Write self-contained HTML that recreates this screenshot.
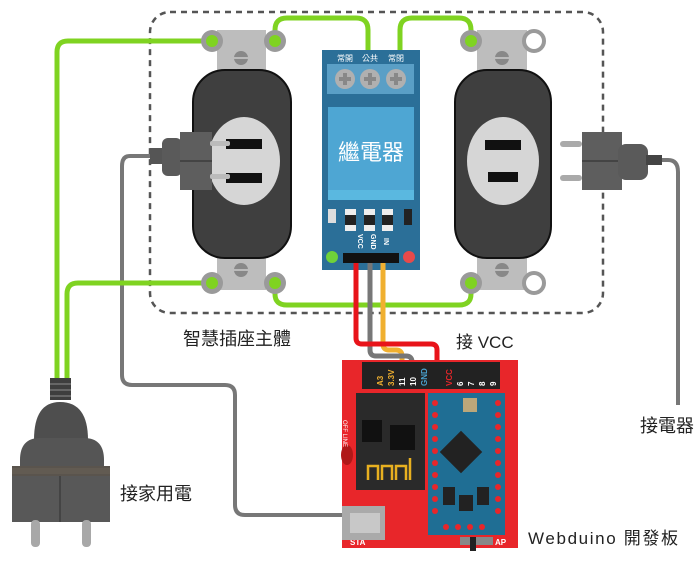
<!DOCTYPE html>
<html><head><meta charset="utf-8"><style>
html,body{margin:0;padding:0;background:#fff}
svg{display:block}
text{font-family:"Liberation Sans","Noto Sans CJK TC",sans-serif}
</style></head><body>
<svg width="700" height="565" viewBox="0 0 700 565" xmlns="http://www.w3.org/2000/svg">
<!-- dashed box -->
<rect x="150" y="12" width="453" height="301" rx="20" fill="none" stroke="#555" stroke-width="2.5" stroke-dasharray="6,5"/>

<!-- gray wires -->
<path d="M150,156 H130 Q122,156 122,166 V375 Q122,385 132,385 H225 Q235,385 235,395 V505 Q235,515 245,515 H350" fill="none" stroke="#777" stroke-width="4"/>
<path d="M620,160 H668 Q678,160 678,172 V405" fill="none" stroke="#777" stroke-width="4"/>

<!-- green wires -->
<g fill="none" stroke="#7fd321" stroke-width="5">
<path d="M212,41 H68 Q57,41 57,52 V380"/>
<path d="M212,283 H78 Q67,283 67,294 V380"/>
<path d="M275,41 V30 Q275,18 287,18 H356 Q368,18 368,30 V52"/>
<path d="M400,52 V30 Q400,18 412,18 H459 Q471,18 471,30 V41"/>
<path d="M275,283 V294 Q275,305 287,305 H459 Q471,305 471,294 V283"/>
</g>

<!-- outlets -->
<g>
 <rect x="217" y="30" width="49" height="42" fill="#bdbdbd"/>
 <circle cx="241" cy="58" r="7" fill="#888"/><rect x="234" y="57" width="14" height="2" fill="#bbb"/>
 <rect x="217" y="256" width="49" height="34" fill="#bdbdbd"/>
 <circle cx="241" cy="270" r="7" fill="#888"/><rect x="234" y="269" width="14" height="2" fill="#bbb"/>
 <rect x="193" y="70" width="98" height="188" rx="32" fill="#3f3f3f" stroke="#111" stroke-width="2"/>
 <ellipse cx="244" cy="161" rx="36" ry="44" fill="#d6d6d6"/>
 <rect x="226" y="139" width="36" height="10" fill="#111"/>
 <rect x="226" y="173" width="36" height="10" fill="#111"/>
 <circle cx="212" cy="41" r="11" fill="#9a9a9a"/><circle cx="212" cy="41" r="6" fill="#7fd321"/>
 <circle cx="275" cy="41" r="11" fill="#9a9a9a"/><circle cx="275" cy="41" r="6" fill="#7fd321"/>
 <circle cx="212" cy="283" r="11" fill="#9a9a9a"/><circle cx="212" cy="283" r="6" fill="#7fd321"/>
 <circle cx="275" cy="283" r="11" fill="#9a9a9a"/><circle cx="275" cy="283" r="6" fill="#7fd321"/>
</g>
<g>
 <rect x="477" y="30" width="50" height="42" fill="#bdbdbd"/>
 <circle cx="502" cy="58" r="7" fill="#888"/><rect x="495" y="57" width="14" height="2" fill="#bbb"/>
 <rect x="477" y="256" width="50" height="34" fill="#bdbdbd"/>
 <circle cx="502" cy="270" r="7" fill="#888"/><rect x="495" y="269" width="14" height="2" fill="#bbb"/>
 <rect x="455" y="70" width="96" height="188" rx="32" fill="#3f3f3f" stroke="#111" stroke-width="2"/>
 <ellipse cx="503" cy="161" rx="36" ry="44" fill="#d6d6d6"/>
 <rect x="485" y="140" width="36" height="10" fill="#111"/>
 <rect x="488" y="172" width="30" height="10" fill="#111"/>
 <circle cx="471" cy="41" r="11" fill="#9a9a9a"/><circle cx="471" cy="41" r="6" fill="#7fd321"/>
 <circle cx="534" cy="41" r="10" fill="#fff" stroke="#9a9a9a" stroke-width="4"/>
 <circle cx="471" cy="283" r="11" fill="#9a9a9a"/><circle cx="471" cy="283" r="6" fill="#7fd321"/>
 <circle cx="534" cy="283" r="10" fill="#fff" stroke="#9a9a9a" stroke-width="4"/>
</g>

<!-- plug in left outlet -->
<g>
 <rect x="150" y="148" width="14" height="16" fill="#555"/>
 <rect x="162" y="138" width="20" height="38" rx="6" fill="#5a5a5a"/>
 <rect x="180" y="132" width="32" height="58" fill="#5e5e5e"/>
 <rect x="180" y="160" width="32" height="2" fill="#444"/>
 <rect x="210" y="141" width="20" height="5" rx="2" fill="#bbb"/>
 <rect x="210" y="174" width="20" height="5" rx="2" fill="#bbb"/>
</g>
<!-- plug on right -->
<g>
 <rect x="560" y="141" width="22" height="6" rx="3" fill="#aaa"/>
 <rect x="560" y="175" width="22" height="6" rx="3" fill="#aaa"/>
 <rect x="582" y="132" width="40" height="58" fill="#5e5e5e"/>
 <rect x="582" y="160" width="40" height="2" fill="#444"/>
 <rect x="618" y="144" width="30" height="36" rx="8" fill="#5a5a5a"/>
 <rect x="646" y="155" width="16" height="10" fill="#444"/>
</g>

<!-- relay -->
<rect x="322" y="50" width="98" height="220" fill="#2b6f98"/>
<text x="345" y="61" font-size="8" fill="#fff" text-anchor="middle">常開</text>
<text x="370" y="61" font-size="8" fill="#fff" text-anchor="middle">公共</text>
<text x="396" y="61" font-size="8" fill="#fff" text-anchor="middle">常閉</text>
<rect x="327" y="64" width="87" height="30" fill="#5a9fc6"/>
<g fill="#b0b0b0"><circle cx="345" cy="79" r="10"/><circle cx="370" cy="79" r="10"/><circle cx="396" cy="79" r="10"/></g>
<g fill="#888"><rect x="339" y="77" width="12" height="4"/><rect x="343" y="73" width="4" height="12"/><rect x="364" y="77" width="12" height="4"/><rect x="368" y="73" width="4" height="12"/><rect x="390" y="77" width="12" height="4"/><rect x="394" y="73" width="4" height="12"/></g>
<rect x="328" y="107" width="86" height="93" fill="#4ea6d3"/>
<rect x="328" y="190" width="86" height="10" fill="#5ab8e0"/>
<text x="371" y="160" font-size="22" fill="#fff" text-anchor="middle">繼電器</text>
<rect x="328" y="209" width="8" height="14" fill="#ddd"/>
<g fill="#eee"><rect x="345" y="209" width="11" height="22"/><rect x="364" y="209" width="11" height="22"/><rect x="382" y="209" width="11" height="22"/></g>
<g fill="#222"><rect x="345" y="215" width="11" height="10"/><rect x="364" y="215" width="11" height="10"/><rect x="382" y="215" width="11" height="10"/></g>
<rect x="404" y="209" width="8" height="16" fill="#222"/>
<text transform="translate(358,234) rotate(90)" font-size="7" fill="#fff" font-weight="bold">VCC</text>
<text transform="translate(371,234) rotate(90)" font-size="7" fill="#fff" font-weight="bold">GND</text>
<text transform="translate(384,238) rotate(90)" font-size="7" fill="#fff" font-weight="bold">IN</text>
<rect x="343" y="253" width="56" height="10" fill="#111"/>
<circle cx="332" cy="257" r="6" fill="#6fd23a"/>
<circle cx="409" cy="257" r="6" fill="#e84a4a"/>

<!-- signal wires -->
<g fill="none" stroke-width="5">
<path d="M383,263 V344 Q383,350 389,350 H396 Q402,350 402,356 V368" stroke="#f0b030"/>
<path d="M370,263 V350 Q370,356 376,356 H406 Q412,356 412,362 V368" stroke="#777"/>
<path d="M356,263 V338 Q356,344 362,344 H431 Q437,344 437,350 V368" stroke="#e8141a"/>
</g>

<!-- webduino board -->
<rect x="342" y="360" width="176" height="188" fill="#e8262a"/>
<rect x="362" y="362" width="138" height="27" fill="#222"/>
<g font-size="8" font-weight="bold">
<text transform="translate(383,386) rotate(-90)" fill="#f0b030">A3</text>
<text transform="translate(394,386) rotate(-90)" fill="#f0b030">3.3V</text>
<text transform="translate(405,386) rotate(-90)" fill="#fff">11</text>
<text transform="translate(416,386) rotate(-90)" fill="#fff">10</text>
<text transform="translate(427,386) rotate(-90)" fill="#4aa3d0">GND</text>
<text transform="translate(452,386) rotate(-90)" fill="#e8262a">VCC</text>
<text transform="translate(463,386) rotate(-90)" fill="#fff">6</text>
<text transform="translate(474,386) rotate(-90)" fill="#fff">7</text>
<text transform="translate(485,386) rotate(-90)" fill="#fff">8</text>
<text transform="translate(496,386) rotate(-90)" fill="#fff">9</text>
</g>
<rect x="356" y="393" width="69" height="97" fill="#2a2a2a"/>
<rect x="362" y="420" width="20" height="22" fill="#111"/>
<rect x="390" y="425" width="25" height="25" fill="#111"/>
<path d="M368,480 V466 H378 V480 M382,480 V466 H392 V480 M396,480 V466 H406 V480 M410,480 V458" fill="none" stroke="#e8b020" stroke-width="2.5"/>
<rect x="428" y="393" width="77" height="142" fill="#1f6e94"/>
<rect x="446" y="437" width="30" height="30" fill="#222" transform="rotate(45 461 452)"/>
<rect x="463" y="398" width="14" height="14" fill="#bba77a"/>
<g fill="#e8262a"><circle cx="435" cy="403" r="3"/><circle cx="435" cy="415" r="3"/><circle cx="435" cy="427" r="3"/><circle cx="435" cy="439" r="3"/><circle cx="435" cy="451" r="3"/><circle cx="435" cy="463" r="3"/><circle cx="435" cy="475" r="3"/><circle cx="435" cy="487" r="3"/><circle cx="435" cy="499" r="3"/><circle cx="435" cy="511" r="3"/><circle cx="498" cy="403" r="3"/><circle cx="498" cy="415" r="3"/><circle cx="498" cy="427" r="3"/><circle cx="498" cy="439" r="3"/><circle cx="498" cy="451" r="3"/><circle cx="498" cy="463" r="3"/><circle cx="498" cy="475" r="3"/><circle cx="498" cy="487" r="3"/><circle cx="498" cy="499" r="3"/><circle cx="498" cy="511" r="3"/><circle cx="446" cy="527" r="3"/><circle cx="458" cy="527" r="3"/><circle cx="470" cy="527" r="3"/><circle cx="482" cy="527" r="3"/></g>
<rect x="443" y="487" width="12" height="18" fill="#222"/>
<rect x="477" y="487" width="12" height="18" fill="#222"/>
<rect x="459" y="495" width="14" height="16" fill="#222"/>
<text x="350" y="545" font-size="8" fill="#fff" font-weight="bold">STA</text>
<text x="495" y="545" font-size="8" fill="#fff" font-weight="bold">AP</text>
<rect x="460" y="537" width="33" height="8" fill="#888"/>
<rect x="470" y="537" width="6" height="14" fill="#222"/>
<rect x="342" y="506" width="43" height="34" fill="#aaa"/>
<rect x="350" y="513" width="30" height="20" fill="#c8c8c8"/>
<ellipse cx="347" cy="455" rx="6" ry="10" fill="#b01818"/>
<text transform="translate(343,420) rotate(90)" font-size="6" fill="#fff">OFF LINE</text>

<!-- left plug -->
<g>
 <rect x="50" y="378" width="21" height="22" fill="#3e3e3e"/>
 <rect x="50" y="383" width="21" height="2" fill="#666"/><rect x="50" y="389" width="21" height="2" fill="#666"/><rect x="50" y="395" width="21" height="2" fill="#666"/>
 <path d="M34,440 Q34,402 60,402 Q88,402 88,440 Z" fill="#4e4e4e"/>
 <path d="M20,460 Q20,438 40,438 H84 Q104,438 104,460 V470 H20 Z" fill="#555"/>
 <rect x="12" y="466" width="98" height="10" fill="#5a544d"/>
 <rect x="12" y="468" width="98" height="6" fill="#625b52"/>
 <rect x="12" y="476" width="98" height="46" fill="#585858"/>
 <rect x="59" y="476" width="2" height="46" fill="#444"/>
 <rect x="31" y="520" width="9" height="27" rx="4" fill="#a8a8a8"/>
 <rect x="82" y="520" width="9" height="27" rx="4" fill="#a8a8a8"/>
</g>

<!-- labels -->
<g fill="#222" font-size="18">
<text x="183" y="345">智慧插座主體</text>
<text x="456" y="348" font-size="17">接 VCC</text>
<text x="120" y="500">接家用電</text>
<text x="640" y="432">接電器</text>
<text x="528" y="544" font-size="17" textLength="150" lengthAdjust="spacing">Webduino 開發板</text>
</g>
</svg>
</body></html>
